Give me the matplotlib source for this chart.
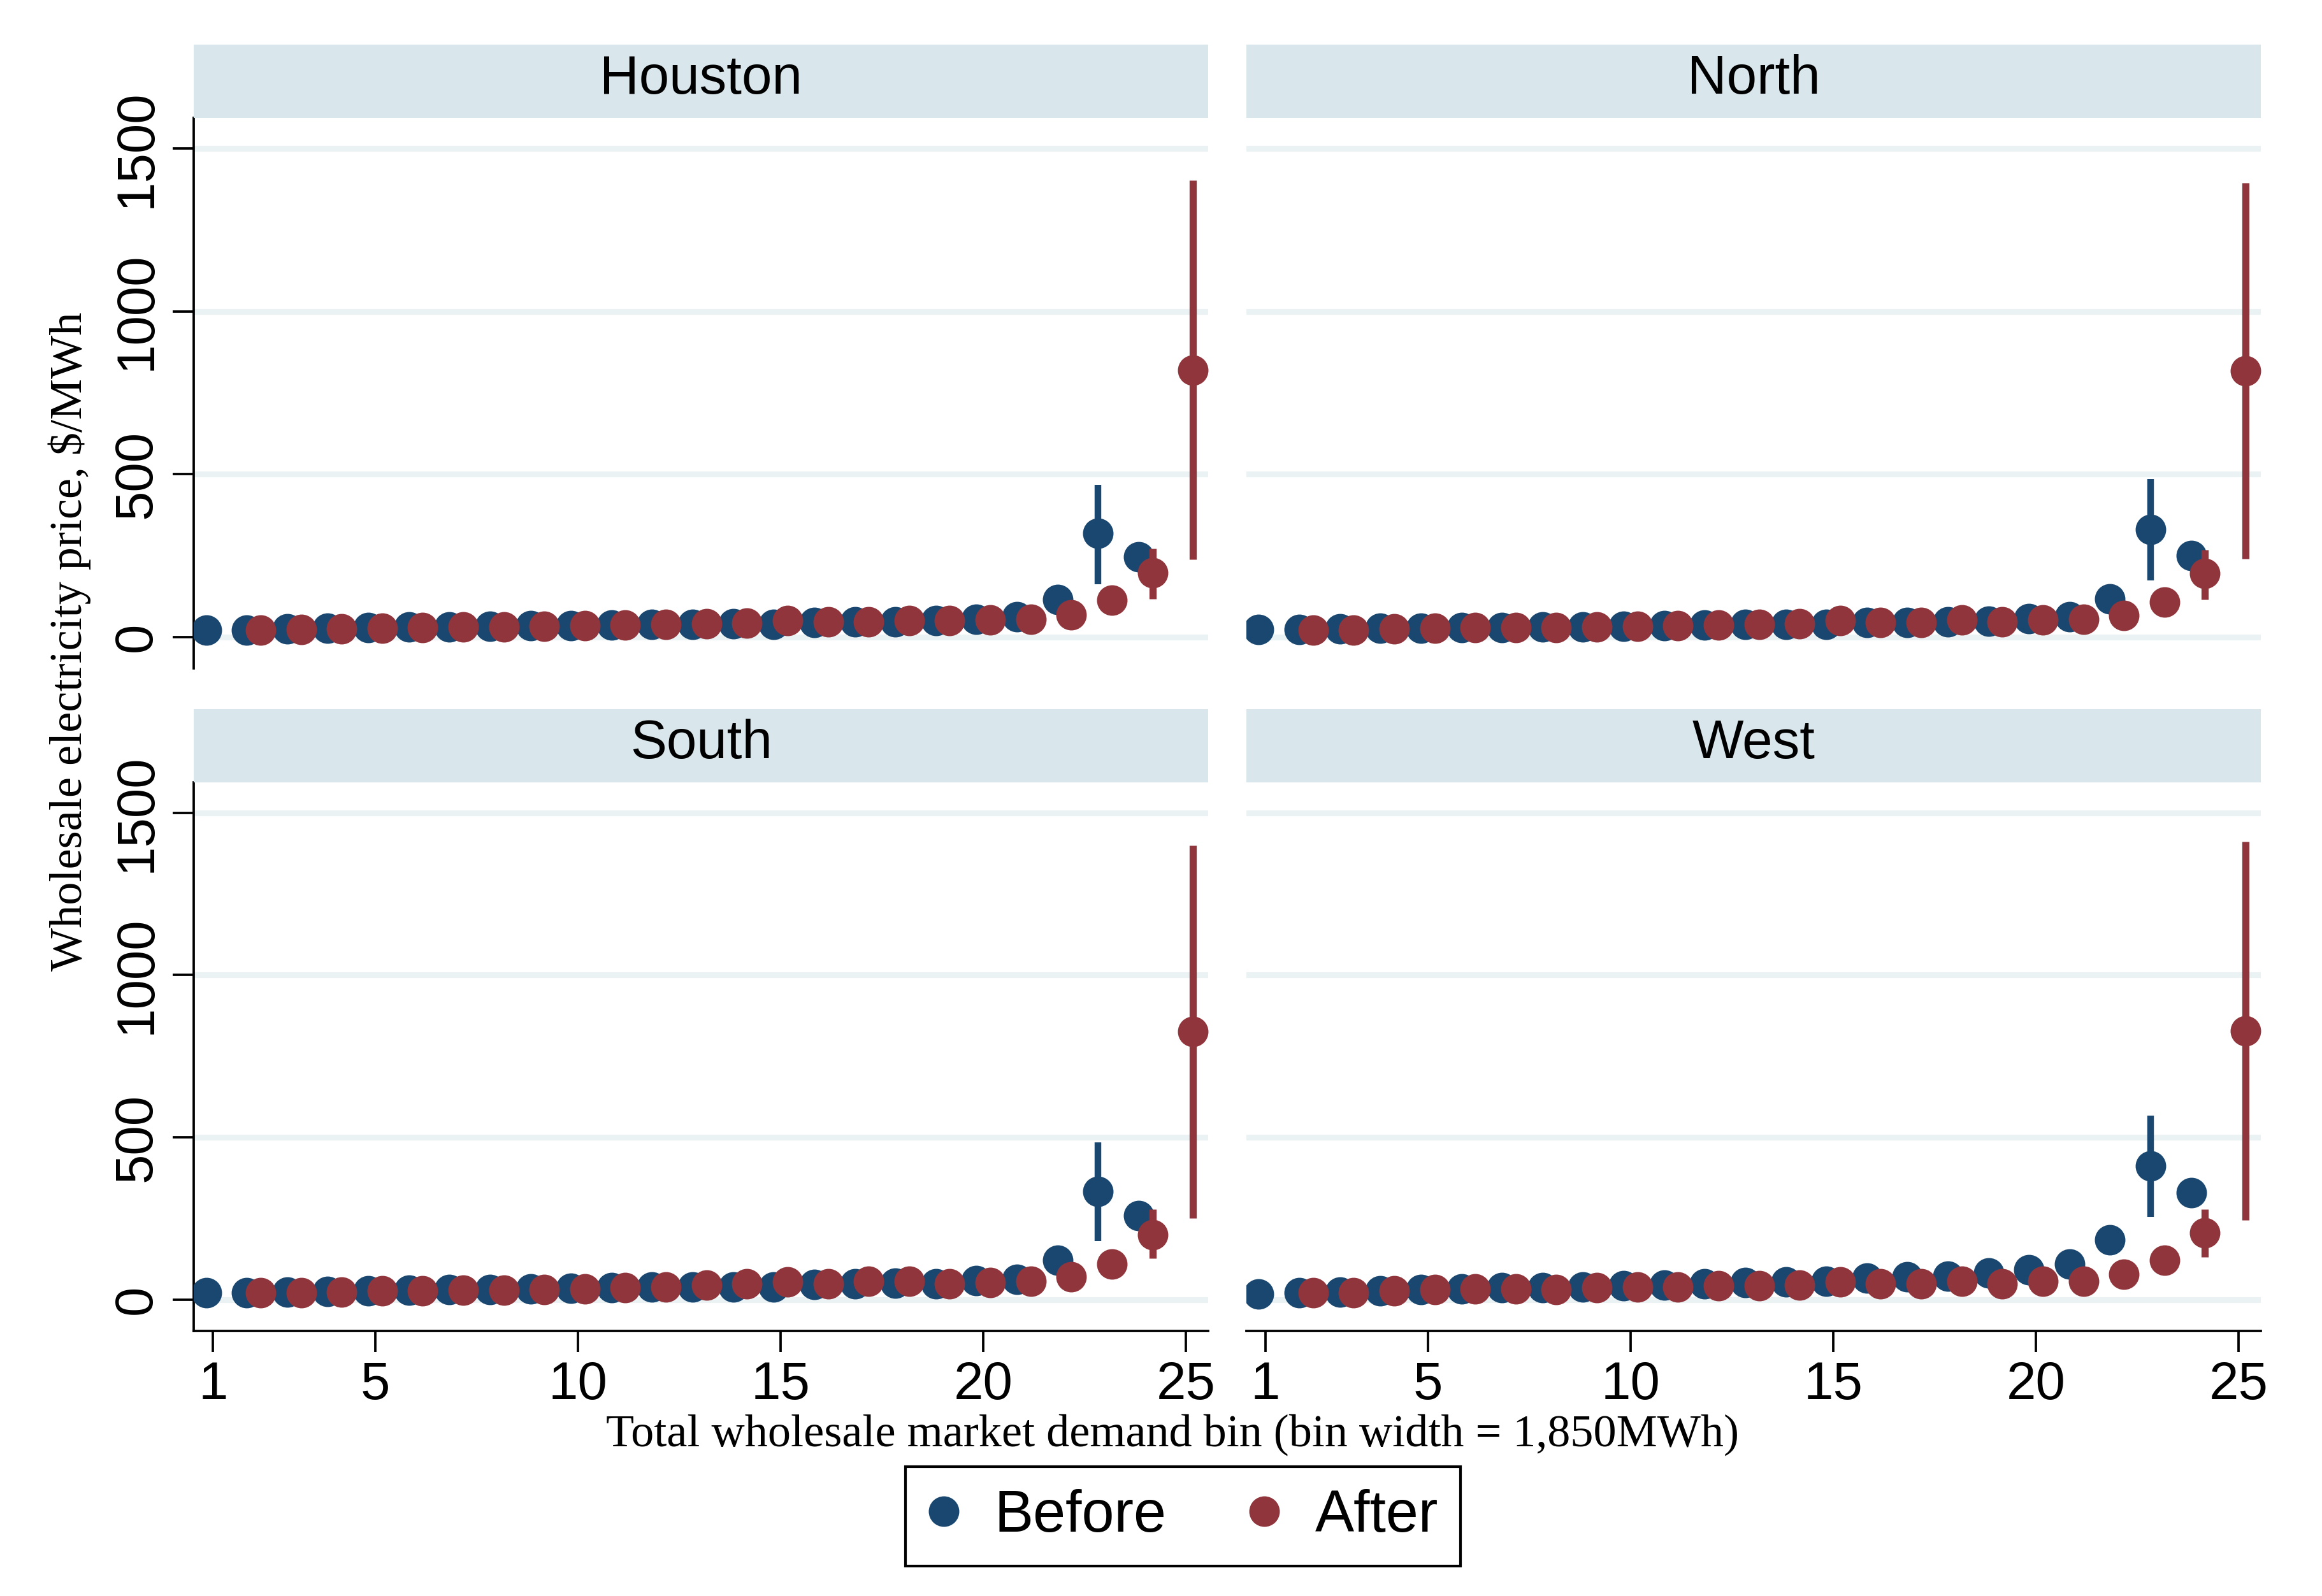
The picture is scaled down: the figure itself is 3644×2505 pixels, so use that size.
import numpy as np
import matplotlib.pyplot as plt
from matplotlib.lines import Line2D

# Data
regions = ["Houston", "North", "South", "West"]
bins_before = list(range(1, 25))
bins_after = list(range(2, 26))

houston_before = [20, 21, 25, 27, 28, 30, 31, 33, 34, 35, 37, 39, 39, 40, 39, 44, 46, 47, 50, 54, 61, 115, 318, 245]
houston_after = [20, 22, 25, 27, 28, 30, 31, 33, 34, 36, 38, 40, 42, 50, 46, 47, 50, 49, 52, 54, 67, 112, 197, 820]
north_before = [22, 22, 24, 26, 27, 28, 29, 30, 31, 33, 35, 36, 38, 39, 38, 44, 44, 46, 48, 56, 61, 116, 330, 250]
north_after = [21, 21, 25, 27, 28, 29, 29, 31, 33, 34, 36, 38, 40, 50, 44, 44, 51, 46, 52, 54, 66, 107, 195, 818]
south_before = [20, 21, 23, 25, 27, 29, 31, 31, 33, 35, 36, 38, 39, 39, 39, 47, 48, 50, 49, 58, 62, 121, 332, 258]
south_after = [20, 21, 23, 26, 27, 29, 29, 31, 33, 37, 39, 44, 48, 54, 49, 56, 56, 49, 52, 56, 69, 110, 200, 825]
west_before = [16, 20, 23, 26, 31, 33, 36, 37, 39, 43, 45, 48, 52, 54, 56, 65, 69, 72, 82, 92, 110, 184, 411, 330]
west_after = [20, 21, 26, 31, 33, 33, 31, 36, 39, 39, 43, 43, 45, 54, 49, 49, 56, 49, 56, 56, 77, 120, 205, 828]

# confidence intervals that are visible beyond the markers: bin -> (low, high)
houston_ci_before = {23: (162, 466)}
houston_ci_after = {24: (117, 272), 25: (238, 1402)}
north_ci_before = {23: (174, 484)}
north_ci_after = {24: (115, 267), 25: (239, 1395)}
south_ci_before = {23: (180, 484)}
south_ci_after = {24: (126, 278), 25: (250, 1400)}
west_ci_before = {23: (255, 566)}
west_ci_after = {24: (131, 278), 25: (244, 1411)}

before = [houston_before, north_before, south_before, west_before]
after = [houston_after, north_after, south_after, west_after]
ci_before = [houston_ci_before, north_ci_before, south_ci_before, west_ci_before]
ci_after = [houston_ci_after, north_ci_after, south_ci_after, west_ci_after]

xticks = [1, 5, 10, 15, 20, 25]
yticks = [0, 500, 1000, 1500]

blue = "#1a476f"
red = "#90353b"
strip_col = "#d9e6eb"
grid_col = "#eaf2f3"
sans = ["Liberation Sans", "DejaVu Sans"]
serif = ["Liberation Serif", "DejaVu Serif"]

fig = plt.figure(figsize=(3644 / 300, 2505 / 300), dpi=300)

lefts = [0.0834, 0.5367]
width = 0.4370
ax_bottoms = [0.5812, 0.1661]
ax_heights = [0.3449, 0.3437]
strip_bottoms = [0.9261, 0.5098]
strip_h = 0.0458
off = 0.17

for i, name in enumerate(regions):
    row, col = divmod(i, 2)
    ax = fig.add_axes([lefts[col], ax_bottoms[row], width, ax_heights[row]])
    ax.set_xlim(0.52, 25.55)
    ax.set_ylim(-97, 1594)
    for yv in yticks:
        ax.axhline(yv, color=grid_col, lw=2.2, zorder=0)

    xb = np.array(bins_before) - off
    xa = np.array(bins_after) + off
    for b, (lo, hi) in ci_before[i].items():
        ax.vlines(b - off, lo, hi, color=blue, lw=2.5, zorder=2)
    ax.plot(xb, before[i], "o", color=blue, ms=11.5, mew=0, zorder=3)
    for b, (lo, hi) in ci_after[i].items():
        ax.vlines(b + off, lo, hi, color=red, lw=2.7, zorder=4)
    ax.plot(xa, after[i], "o", color=red, ms=11.5, mew=0, zorder=5)

    for s in ax.spines.values():
        s.set_visible(False)
        s.set_linewidth(0.9)
    if col == 0:
        ax.spines["left"].set_visible(True)
        ax.set_yticks(yticks)
        ax.set_yticklabels([str(v) for v in yticks], rotation=90, va="center",
                           family=sans, fontsize=20)
        ax.tick_params(axis="y", length=8, width=0.9, pad=4)
    else:
        ax.set_yticks([])
    if row == 1:
        ax.spines["bottom"].set_visible(True)
        ax.set_xticks(xticks)
        ax.set_xticklabels([str(v) for v in xticks], family=sans, fontsize=20)
        ax.tick_params(axis="x", length=8, width=0.9, pad=3)
    else:
        ax.set_xticks([])

    sax = fig.add_axes([lefts[col], strip_bottoms[row], width, strip_h])
    sax.set_facecolor(strip_col)
    sax.set_xticks([])
    sax.set_yticks([])
    for s in sax.spines.values():
        s.set_visible(False)
    sax.text(0.5, 0.52, name, ha="center", va="center", family=sans,
             fontsize=20.5, transform=sax.transAxes)

fig.text(0.030, 0.598, "Wholesale electricity price, $/MWh", rotation=90,
         ha="center", va="center", family=serif, fontsize=17.3)
fig.text(0.5050, 0.0938, "Total wholesale market demand bin (bin width = 1,850MWh)",
         ha="center", va="baseline", family=serif, fontsize=17.3)

handles = [Line2D([], [], ls="none", marker="o", color=blue, ms=11.5, mew=0),
           Line2D([], [], ls="none", marker="o", color=red, ms=11.5, mew=0)]
leg = fig.legend(handles, ["Before", "After"], loc="center",
                 bbox_to_anchor=(0.5095, 0.0499), ncol=2, frameon=True,
                 fancybox=False, edgecolor="black", framealpha=1,
                 prop={"family": sans, "size": 22}, handlelength=0.54,
                 handletextpad=0.6, columnspacing=1.4, borderpad=0.38)
leg.get_frame().set_linewidth(1.0)

fig.savefig("out.png", dpi=300, facecolor="white")
